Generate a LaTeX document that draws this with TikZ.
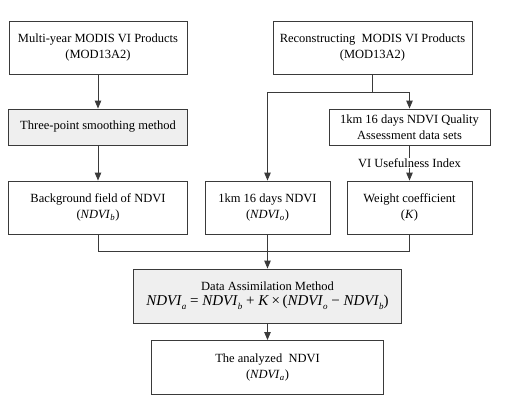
\documentclass[tikz,border=0pt]{standalone}
\usepackage{fontspec}
\setmainfont{Liberation Serif}
\usepackage{tikz}
\usetikzlibrary{arrows.meta}
\definecolor{linegray}{HTML}{3A3A3A}
\definecolor{boxgray}{HTML}{EFEFEF}
\newcommand{\ndvi}[1]{\textit{NDVI}\textsubscript{\textit{#1}}}
\newcommand{\eqndvi}[1]{\textit{NDVI}\raisebox{-0.6ex}{\fontsize{9}{9}\selectfont\textit{#1}}}

\begin{document}
\begin{tikzpicture}[x=1pt,y=-1pt,
    box/.style={draw=linegray,line width=0.9pt,align=center,inner sep=0pt,
      font=\fontsize{12.5}{16}\selectfont},
    shaded/.style={box,fill=boxgray},
    arr/.style={draw=linegray,line width=0.9pt,-{Triangle[width=6.5pt,length=8pt]}},
    ln/.style={draw=linegray,line width=0.9pt}]
      \useasboundingbox (0,0) rectangle (520,405);
      \node[box,minimum width=178pt,minimum height=53pt] (multi) at (98,47.5)
        {Multi-year MODIS VI Products\\(MOD13A2)};
      \node[box,minimum width=199pt,minimum height=53pt] (recon) at (372.5,47.5)
        {Reconstructing\ \ MODIS VI Products\\(MOD13A2)};
      \node[shaded,minimum width=179pt,minimum height=36pt] (smooth) at (98,127)
        {Three-point smoothing method};
      \node[box,minimum width=161pt,minimum height=36pt] (quality) at (409.5,127)
        {1km 16 days NDVI Quality\\Assessment data sets};
      \node[box,minimum width=179pt,minimum height=53pt] (backg) at (98,207.5)
        {Background field of NDVI\\(\ndvi{b})};
      \node[box,minimum width=125pt,minimum height=53pt] (obs) at (267.5,207.5)
        {1km 16 days NDVI\\(\ndvi{o})};
      \node[box,minimum width=125pt,minimum height=53pt] (weight) at (409.5,207.5)
        {Weight coefficient\\(\textit{K})};
      \node[shaded,minimum width=268pt,minimum height=54pt] (assim) at (267.5,296)
        {Data Assimilation Method\\[-1pt]
         {\fontsize{15}{18}\selectfont\eqndvi{a}\ = \eqndvi{b}\ + \textit{K}\,×\,(\eqndvi{o}\ − \eqndvi{b})}};
      \node[box,minimum width=232pt,minimum height=54pt] (result) at (267.5,367.5)
        {The analyzed\ \ NDVI\\(\ndvi{a})};
      \coordinate (split) at (372.5,92);
      \coordinate (join) at (267.5,251);
      \draw[arr] (multi) -- (smooth);
      \draw[arr] (smooth) -- (backg);
      \draw[ln] (recon) -- (split);
      \draw[arr] (split) -| (obs);
      \draw[arr] (split) -| (quality);
      \draw[arr] (quality) -- node[fill=white,inner sep=1pt,font=\fontsize{12.5}{15}\selectfont]
        {VI Usefulness Index} (weight);
      \draw[ln] (backg) |- (join);
      \draw[ln] (weight) |- (join);
      \draw[arr] (obs) -- (assim);
      \draw[arr] (assim) -- (result);
    \end{tikzpicture}
\end{document}
